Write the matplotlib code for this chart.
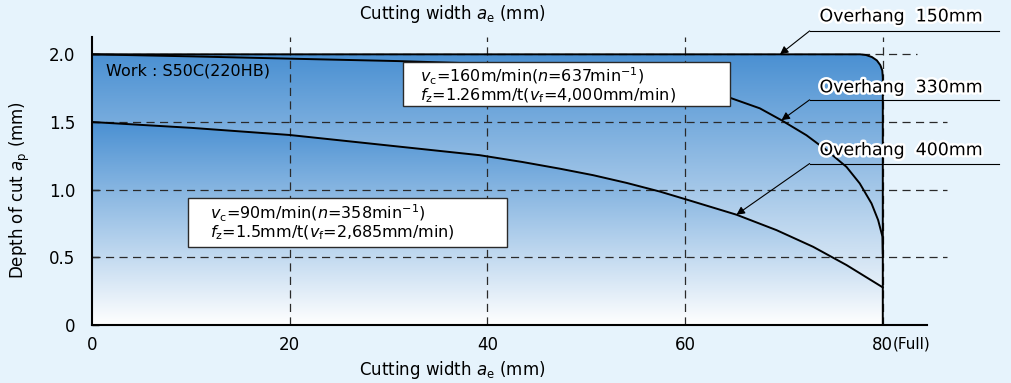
import numpy as np
import matplotlib
matplotlib.use("Agg")
import matplotlib.pyplot as plt
from matplotlib.patches import Polygon, Rectangle
from matplotlib.colors import LinearSegmentedColormap
import matplotlib.patheffects as pe

# outline of the 150mm overhang region (flat top, rounded corner, vertical at full width)
x150 = [0, 77.7, 78.3, 78.9, 79.4, 79.75, 79.95, 80.0, 80.0]
y150 = [2.0, 2.0, 1.995, 1.98, 1.955, 1.92, 1.88, 1.83, 0.0]

# 330mm overhang
x330 = [0, 10, 20, 31, 40, 50, 56, 60, 64.5, 67.56, 69.75, 72.28, 74.3, 76.33,
        77.67, 78.86, 79.53, 79.97, 80.0]
y330 = [2.0, 1.985, 1.968, 1.95, 1.93, 1.875, 1.82, 1.765, 1.68, 1.601, 1.513, 1.402, 1.292, 1.168,
        1.046, 0.898, 0.775, 0.652, 0.53]

# 400mm overhang
x400 = [0, 10, 20, 32.5, 39.2, 43.5, 47.33, 50.7, 54.08, 57.45, 60.15, 65.2, 69.25, 72.95, 76.33, 80.0]
y400 = [1.5, 1.457, 1.404, 1.307, 1.255, 1.205, 1.155, 1.107, 1.050, 0.986, 0.927, 0.815, 0.701, 0.578, 0.443, 0.278]

xticks = [0, 20, 40, 60, 80]
yticks = [0, 0.5, 1.0, 1.5, 2.0]
ytick_labels = ["0", "0.5", "1.0", "1.5", "2.0"]

labels = ["Overhang  150mm", "Overhang  330mm", "Overhang  400mm"]
label_pos = [(73.6, 2.28), (73.6, 1.756), (73.6, 1.292)]
underline_y = [2.173, 1.664, 1.193]
arrow_tips = [(69.6, 2.0), (69.75, 1.513), (65.2, 0.815)]

box1 = [r"$v_{\mathrm{c}}$=160m/min($n$=637min$^{\mathrm{-1}}$)",
        r"$f_{\mathrm{z}}$=1.26mm/t($v_{\mathrm{f}}$=4,000mm/min)"]
box2 = [r"$v_{\mathrm{c}}$=90m/min($n$=358min$^{\mathrm{-1}}$)",
        r"$f_{\mathrm{z}}$=1.5mm/t($v_{\mathrm{f}}$=2,685mm/min)"]

bg = "#e6f3fc"
blue = "#4a90d2"
dark = "#2a2a2a"

plt.rcParams['font.family'] = ['DejaVu Sans']
plt.rcParams['mathtext.fontset'] = 'dejavusans'

fig = plt.figure(figsize=(10.12, 3.83), dpi=100, facecolor=bg)
ax = fig.add_axes([0.0909, 0.1514, 0.8498, 0.7527])
ax.set_facecolor(bg)


def gradient_fill(xs, ys, z):
    verts = list(zip(xs, ys)) + [(xs[-1], 0), (xs[0], 0)]
    poly = Polygon(verts, closed=True, facecolor='none', edgecolor='none')
    ax.add_patch(poly)
    cmap = LinearSegmentedColormap.from_list('g', ['white', blue])
    grad = np.linspace(1, 0, 256).reshape(-1, 1)
    im = ax.imshow(grad, extent=[min(xs), max(xs), 0, max(ys)], aspect='auto',
                   cmap=cmap, vmin=0, vmax=1, origin='upper', zorder=z)
    im.set_clip_path(poly)


gradient_fill(x150, y150, 1)
gradient_fill(x330, y330, 1.1)
gradient_fill(x400, y400, 1.2)

# dashed grid
dash = (6.5, 4.3)
for xv in [20, 40, 60, 80]:
    ax.plot([xv, xv], [0, 2.13], color=dark, lw=0.9, dashes=dash, zorder=2, clip_on=False)
for yv in [0.5, 1.0, 1.5]:
    ax.plot([0, 86.5], [yv, yv], color=dark, lw=0.9, dashes=dash, zorder=2, clip_on=False)
ax.plot([0, 83.5], [2.0, 2.0], color=dark, lw=0.9, dashes=dash, zorder=2, clip_on=False)

ax.plot(x150, y150, color='black', lw=1.4, zorder=4, solid_joinstyle='round')
ax.plot(x330, y330, color='black', lw=1.4, zorder=4, solid_joinstyle='round')
ax.plot(x400, y400, color='black', lw=1.4, zorder=4, solid_joinstyle='round')

# condition boxes
ax.add_patch(Rectangle((31.45, 1.616), 33.05, 0.325, facecolor='white', edgecolor=dark, lw=1.0, zorder=5))
ax.text(33.2, 1.838, box1[0], fontsize=11.5, va='center', ha='left', zorder=6)
ax.text(33.2, 1.690, box1[1], fontsize=11.5, va='center', ha='left', zorder=6)

ax.add_patch(Rectangle((9.7, 0.576), 32.3, 0.361, facecolor='white', edgecolor=dark, lw=1.0, zorder=5))
ax.text(11.9, 0.827, box2[0], fontsize=11.5, va='center', ha='left', zorder=6)
ax.text(11.9, 0.679, box2[1], fontsize=11.5, va='center', ha='left', zorder=6)

ax.text(1.4, 1.88, "Work : S50C(220HB)", fontsize=11.5, va='center', ha='left', zorder=6)

# overhang labels with leader arrows
for lab, (tx, ty), uy, tip in zip(labels, label_pos, underline_y, arrow_tips):
    ax.text(tx, ty, lab, fontsize=12.5, va='center', ha='left', zorder=7, clip_on=False,
            path_effects=[pe.withStroke(linewidth=3.5, foreground='white')])
    ax.plot([72.6, 91.8], [uy, uy], color='black', lw=0.8, zorder=7, clip_on=False)
    ax.annotate("", xy=tip, xytext=(72.6, uy), zorder=7, annotation_clip=False,
                arrowprops=dict(arrowstyle='-|>', color='black', lw=0.8, mutation_scale=12,
                                shrinkA=0, shrinkB=0))

ax.set_xlim(0, 87)
ax.set_ylim(0, 2.13)
ax.set_xticks(xticks)
ax.set_yticks(yticks)
ax.set_yticklabels(ytick_labels)
ax.tick_params(axis='x', length=0, pad=8, labelsize=12)
ax.tick_params(axis='y', direction='in', length=5, width=1, pad=12, labelsize=12)
ax.annotate("(Full)", xy=(80, 0), xytext=(7.5, -8.5), textcoords='offset points',
            ha='left', va='top', fontsize=11, annotation_clip=False)

for s in ['top', 'right']:
    ax.spines[s].set_visible(False)
ax.spines['left'].set_linewidth(1.5)
ax.spines['bottom'].set_linewidth(1.5)
ax.spines['bottom'].set_bounds(0, 84.5)

ax.set_xlabel(r"Cutting width $\mathit{a}_{\mathrm{e}}$ (mm)", fontsize=12)
ax.xaxis.set_label_coords(0.4186, -0.118)
ax.set_ylabel(r"Depth of cut $\mathit{a}_{\mathrm{p}}$ (mm)", fontsize=12)
ax.yaxis.set_label_coords(-0.07, 0.47)
fig.text(0.447, 0.963, r"Cutting width $\mathit{a}_{\mathrm{e}}$ (mm)", fontsize=12,
         ha='center', va='center')

plt.savefig("out.png", dpi=100, facecolor=bg)
